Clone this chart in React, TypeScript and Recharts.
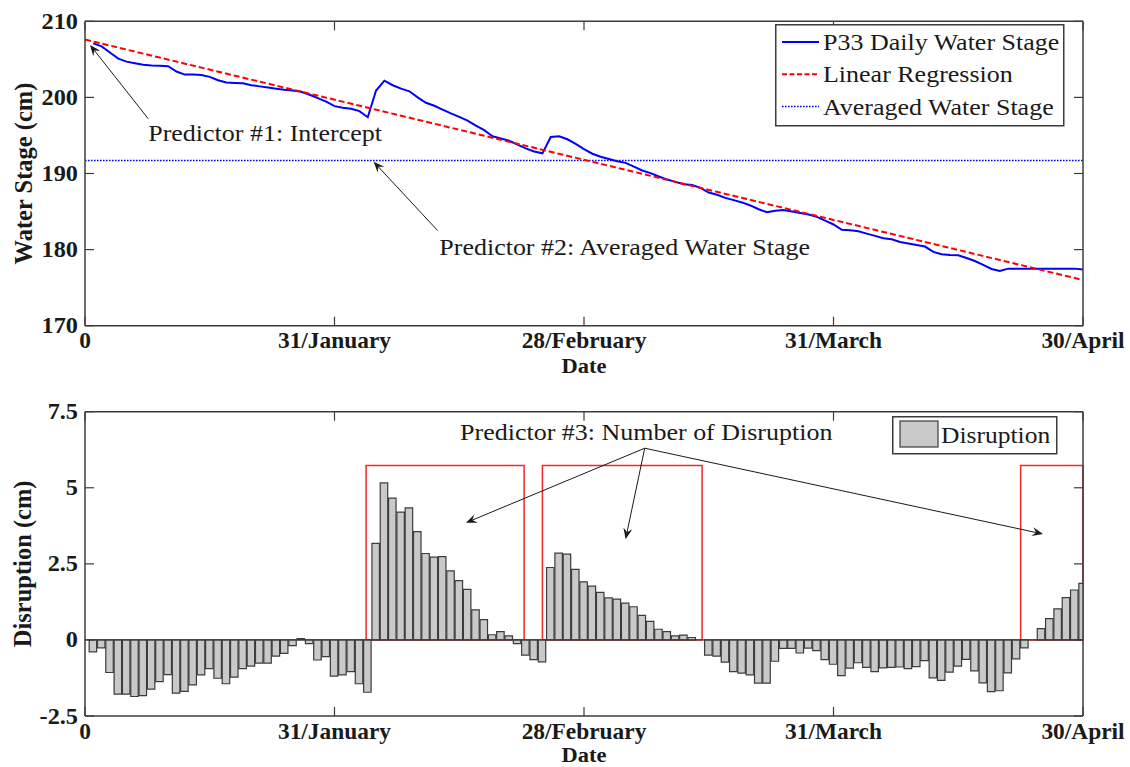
import React from 'react';
import {
  ComposedChart,
  Line,
  Bar,
  XAxis,
  YAxis,
  ReferenceLine,
  ReferenceArea,
  ReferenceDot,
  Legend,
} from 'recharts';

// Day index of each daily record (day 1 = 1 January)
const days: number[] = Array.from({ length: 120 }, (_, i) => i + 1);

// P33 daily water stage (cm)
const dailyStage: number[] = [
  207.1, 206.7, 205.9, 205.1, 204.7, 204.5, 204.3, 204.2, 204.15, 204.1,
  203.4, 203.0, 203.0, 202.95, 202.7, 202.25, 201.95, 201.9, 201.85, 201.6,
  201.45, 201.3, 201.15, 201.0, 200.9, 200.75, 200.35, 199.9, 199.45, 198.85,
  198.65, 198.5, 198.2, 197.4, 200.9, 202.2, 201.6, 201.15, 200.8, 200.0,
  199.3, 198.9, 198.4, 197.9, 197.45, 196.95, 196.3, 195.7, 194.9, 194.6,
  194.3, 193.8, 193.3, 192.9, 192.65, 194.8, 194.9, 194.5, 193.9, 193.2,
  192.6, 192.2, 191.9, 191.6, 191.4, 190.9, 190.4, 190.05, 189.6, 189.2,
  188.9, 188.6, 188.5, 188.1, 187.5, 187.2, 186.8, 186.5, 186.2, 185.8,
  185.3, 184.9, 185.1, 185.2, 185.0, 184.8, 184.6, 184.3, 183.8, 183.3,
  182.6, 182.55, 182.4, 182.1, 181.8, 181.5, 181.35, 181.0, 180.8, 180.6,
  180.4, 179.7, 179.4, 179.3, 179.25, 178.9, 178.5, 178.0, 177.45, 177.2,
  177.5, 177.5, 177.5, 177.5, 177.5, 177.5, 177.5, 177.5, 177.5, 177.4,
];

// Daily disruption (cm)
const disruption: number[] = [
  -0.39, -0.26, -1.07, -1.78, -1.78, -1.86, -1.83, -1.62, -1.37, -1.14,
  -1.75, -1.69, -1.48, -1.15, -0.94, -1.26, -1.44, -1.22, -0.94, -0.86,
  -0.76, -0.76, -0.53, -0.44, -0.19, 0.04, -0.12, -0.66, -0.55, -1.19,
  -1.15, -1.04, -1.44, -1.72, 3.17, 5.16, 4.66, 4.2, 4.34, 3.56,
  2.84, 2.72, 2.74, 2.27, 1.95, 1.66, 0.99, 0.67, 0.17, 0.27,
  0.13, -0.12, -0.5, -0.65, -0.72, 2.38, 2.85, 2.82, 2.32, 1.91,
  1.77, 1.56, 1.38, 1.34, 1.21, 1.09, 0.81, 0.61, 0.35, 0.27,
  0.13, 0.16, 0.08, 0, -0.5, -0.53, -0.73, -1.04, -1.09, -1.15,
  -1.42, -1.42, -0.7, -0.28, -0.28, -0.43, -0.27, -0.35, -0.65, -0.8,
  -1.17, -0.93, -0.75, -0.9, -1.04, -0.92, -0.9, -0.89, -0.94, -0.88,
  -0.68, -1.25, -1.33, -1.06, -0.86, -0.64, -1.02, -1.41, -1.7, -1.67,
  -1.08, -0.62, -0.26, 0, 0.37, 0.7, 1.02, 1.39, 1.64, 1.86,
];

// Fitted linear regression end points (day, cm)
const regressionDays: number[] = [0, 120];
const regressionStage: number[] = [207.6, 176.0];

// Mean water stage over the period (cm)
const averagedStage = 191.7;

const dateTicks: number[] = [0, 30, 60, 90, 120];
const dateTickLabels: string[] = ['0', '31/January', '28/February', '31/March', '30/April'];
const stageTicks: number[] = [170, 180, 190, 200, 210];
const stageTickLabels: string[] = ['170', '180', '190', '200', '210'];
const disruptionTicks: number[] = [-2.5, 0, 2.5, 5, 7.5];
const disruptionTickLabels: string[] = ['-2.5', '0', '2.5', '5', '7.5'];

// Periods of positive disruption framed in red: [from day, to day]
const disruptionPeriods: number[][] = [
  [33.8, 52.8],
  [55.0, 74.2],
  [112.5, 120],
];
const periodTop = 5.73;

// Annotation anchors in data units
const interceptNote = { text: 'Predictor #1: Intercept', at: [7.6, 195.3], from: [7.6, 197.2], to: [0.6, 206.9] };
const averageNote = { text: 'Predictor #2: Averaged Water Stage', at: [42.6, 180.4], from: [42.4, 182.5], to: [34.7, 191.55] };
const disruptionNote = {
  text: 'Predictor #3: Number of Disruption',
  at: [45.1, 6.83],
  from: [67.3, 6.3],
  targets: [
    [45.8, 3.85],
    [65.0, 3.31],
    [115.2, 3.48],
  ],
};

const stageData = days.map((d, i) => ({ day: d, stage: dailyStage[i] }));
const regressionData = regressionDays.map((d, i) => ({ day: d, regression: regressionStage[i] }));
const averageData = [
  { day: 0, average: averagedStage },
  { day: 120, average: averagedStage },
];
const disruptionData = days.map((d, i) => ({ day: d, disruption: disruption[i] }));

// ---- styling ----
const FONT = '"Liberation Serif", "Times New Roman", Times, serif';
const INK = '#1a1a1a';
const AXIS_COLOR = '#3c3c3c';
const TICK_LEN = 9;
const BLUE = '#0000ff';
const RED = '#ff0000';
const BAR_FILL = '#c9c9c9';
const BOX_RED = '#f02828';
const WIDE = 1.13; // horizontal widening of the lighter texts
const TICK_WIDE = 1.04;

const CHART_W = 1130;
const PLOT_LEFT = 85;
const PLOT_RIGHT = 1083;
const BAR_SIZE = (PLOT_RIGHT - PLOT_LEFT) / 120;

const labelFor = (values: number[], labels: string[]) => (v: number) => {
  const i = values.indexOf(v);
  return i >= 0 ? labels[i] : String(v);
};
const dateLabel = labelFor(dateTicks, dateTickLabels);
const stageLabel = labelFor(stageTicks, stageTickLabels);
const disruptionLabel = labelFor(disruptionTicks, disruptionTickLabels);

type STextProps = {
  x: number;
  y: number;
  anchor?: 'start' | 'middle' | 'end';
  size: number;
  weight?: number;
  sx?: number;
  rotate?: number;
  children: React.ReactNode;
};

// Text widened horizontally around its anchor point
const SText = ({ x, y, anchor = 'start', size, weight = 400, sx = 1, rotate = 0, children }: STextProps) => (
  <text
    transform={`translate(${x} ${y})${rotate ? ` rotate(${rotate})` : ''} scale(${sx} 1)`}
    x={0}
    y={0}
    textAnchor={anchor}
    fontFamily={FONT}
    fontSize={size}
    fontWeight={weight}
    fill={INK}
  >
    {children}
  </text>
);

const BottomTick = (props: any) => {
  const { x, y, payload } = props;
  return (
    <g>
      <line x1={x} y1={y} x2={x} y2={y - TICK_LEN} stroke={AXIS_COLOR} strokeWidth={1.2} />
      <SText x={x} y={y + 22.5} anchor="middle" size={22.5} weight={700} sx={TICK_WIDE}>
        {dateLabel(payload.value)}
      </SText>
    </g>
  );
};

const TopTick = (props: any) => {
  const { x, y } = props;
  return <line x1={x} y1={y} x2={x} y2={y + TICK_LEN} stroke={AXIS_COLOR} strokeWidth={1.2} />;
};

const makeLeftTick = (fmt: (v: number) => string) => (props: any) => {
  const { x, y, payload } = props;
  return (
    <g>
      <line x1={x} y1={y} x2={x + TICK_LEN} y2={y} stroke={AXIS_COLOR} strokeWidth={1.2} />
      <SText x={x - 7} y={y + 7.5} anchor="end" size={22.5} weight={700} sx={1.08}>
        {fmt(payload.value)}
      </SText>
    </g>
  );
};

const RightTick = (props: any) => {
  const { x, y } = props;
  return <line x1={x} y1={y} x2={x - TICK_LEN} y2={y} stroke={AXIS_COLOR} strokeWidth={1.2} />;
};

const yTitle = (text: string, dx: number) => (p: any) => {
  const vb = p.viewBox || {};
  const cx = vb.x + vb.width - dx + 8;
  const cy = vb.y + vb.height / 2;
  return (
    <SText x={cx} y={cy} anchor="middle" size={24.5} weight={700} rotate={-90}>
      {text}
    </SText>
  );
};

const xTitle = (text: string, dy: number) => (p: any) => {
  const vb = p.viewBox || {};
  return (
    <SText x={vb.x + vb.width / 2} y={vb.y + dy} anchor="middle" size={21} weight={700} sx={1.07}>
      {text}
    </SText>
  );
};

// Line with a filled arrowhead at its end point
const arrowShape = (p: any) => {
  const { x1, y1, x2, y2 } = p;
  const dx = x2 - x1;
  const dy = y2 - y1;
  const len = Math.hypot(dx, dy) || 1;
  const ux = dx / len;
  const uy = dy / len;
  const head = 11;
  const half = 4.5;
  const notch = 7;
  const bx = x2 - ux * head;
  const by = y2 - uy * head;
  const pts = [
    [x2, y2],
    [bx - uy * half, by + ux * half],
    [x2 - ux * notch, y2 - uy * notch],
    [bx + uy * half, by - ux * half],
  ]
    .map((q) => q.join(','))
    .join(' ');
  return (
    <g>
      <line x1={x1} y1={y1} x2={x2 - ux * notch} y2={y2 - uy * notch} stroke={INK} strokeWidth={1} />
      <polygon points={pts} fill={INK} />
    </g>
  );
};

const noteShape = (text: string) => (p: any) => (
  <SText x={p.cx} y={p.cy + 8} size={23} sx={WIDE}>
    {text}
  </SText>
);

const topLegendItems = [
  { label: 'P33 Daily Water Stage', color: BLUE, dash: undefined as string | undefined, width: 2 },
  { label: 'Linear Regression', color: RED, dash: '5 2.5', width: 2 },
  { label: 'Averaged Water Stage', color: BLUE, dash: '1.6 1.4', width: 1.5 },
];

const TopLegend = () => (
  <svg width={290} height={103} style={{ display: 'block' }}>
    <rect x={0.75} y={0.75} width={288} height={101} fill="#fff" stroke={AXIS_COLOR} strokeWidth={1.5} />
    {topLegendItems.map((it, i) => {
      const cy = 18 + i * 32.3;
      return (
        <g key={it.label}>
          <line x1={7} y1={cy} x2={44} y2={cy} stroke={it.color} strokeWidth={it.width} strokeDasharray={it.dash} />
          <SText x={48} y={cy + 8} size={23} sx={WIDE}>
            {it.label}
          </SText>
        </g>
      );
    })}
  </svg>
);

const BottomLegend = () => (
  <svg width={166} height={39} style={{ display: 'block' }}>
    <rect x={0.75} y={0.75} width={164} height={37} fill="#fff" stroke={AXIS_COLOR} strokeWidth={1.5} />
    <rect x={8} y={5} width={38} height={26} fill={BAR_FILL} stroke={AXIS_COLOR} strokeWidth={1.2} />
    <SText x={49} y={27} size={23} sx={1.11}>
      Disruption
    </SText>
  </svg>
);

export default function App() {
  return (
    <div style={{ position: 'absolute', left: 0, top: 0, width: CHART_W, height: 767, background: '#fff' }}>
      {/* Water stage panel */}
      <div style={{ position: 'absolute', left: 0, top: 0 }}>
        <ComposedChart
          width={CHART_W}
          height={380}
          data={stageData}
          margin={{ top: 11.3, right: 37, bottom: 24.3, left: 35 }}
        >
          <XAxis
            dataKey="day"
            type="number"
            domain={[0, 120]}
            ticks={dateTicks}
            allowDataOverflow
            height={30}
            tickSize={0}
            tickMargin={0}
            tick={BottomTick}
            tickLine={false}
            axisLine={{ stroke: AXIS_COLOR, strokeWidth: 1.5 }}
            label={{ content: xTitle('Date', 47.5) }}
          />
          <XAxis
            xAxisId="t"
            orientation="top"
            type="number"
            dataKey="day"
            domain={[0, 120]}
            ticks={dateTicks}
            allowDataOverflow
            height={10}
            tickSize={0}
            tickMargin={0}
            tick={TopTick}
            tickLine={false}
            axisLine={{ stroke: AXIS_COLOR, strokeWidth: 1.5 }}
          />
          <YAxis
            type="number"
            domain={[170, 210]}
            ticks={stageTicks}
            allowDataOverflow
            width={50}
            tickSize={0}
            tickMargin={0}
            tick={makeLeftTick(stageLabel)}
            tickLine={false}
            axisLine={{ stroke: AXIS_COLOR, strokeWidth: 1.5 }}
            label={{ content: yTitle('Water Stage (cm)', 61) }}
          />
          <YAxis
            yAxisId="r"
            orientation="right"
            type="number"
            domain={[170, 210]}
            ticks={stageTicks}
            allowDataOverflow
            width={10}
            tickSize={0}
            tickMargin={0}
            tick={RightTick}
            tickLine={false}
            axisLine={{ stroke: AXIS_COLOR, strokeWidth: 1.5 }}
          />
          <Line
            data={averageData}
            dataKey="average"
            name="Averaged Water Stage"
            stroke={BLUE}
            strokeWidth={1.5}
            strokeDasharray="1.6 1.4"
            dot={false}
            isAnimationActive={false}
          />
          <Line
            dataKey="stage"
            name="P33 Daily Water Stage"
            stroke={BLUE}
            strokeWidth={2}
            dot={false}
            isAnimationActive={false}
          />
          <Line
            data={regressionData}
            dataKey="regression"
            name="Linear Regression"
            stroke={RED}
            strokeWidth={2}
            strokeDasharray="6 3"
            dot={false}
            isAnimationActive={false}
          />
          <ReferenceLine
            segment={[
              { x: interceptNote.from[0], y: interceptNote.from[1] },
              { x: interceptNote.to[0], y: interceptNote.to[1] },
            ]}
            shape={arrowShape}
          />
          <ReferenceDot x={interceptNote.at[0]} y={interceptNote.at[1]} r={0} shape={noteShape(interceptNote.text)} />
          <ReferenceLine
            segment={[
              { x: averageNote.from[0], y: averageNote.from[1] },
              { x: averageNote.to[0], y: averageNote.to[1] },
            ]}
            shape={arrowShape}
          />
          <ReferenceDot x={averageNote.at[0]} y={averageNote.at[1]} r={0} shape={noteShape(averageNote.text)} />
          <Legend
            layout="vertical"
            align="center"
            verticalAlign="middle"
            content={TopLegend}
            wrapperStyle={{ left: 775, top: 23.5, width: 290, height: 103, right: 'auto', bottom: 'auto' }}
          />
        </ComposedChart>
      </div>

      {/* Disruption panel */}
      <div style={{ position: 'absolute', left: 0, top: 380 }}>
        <ComposedChart
          width={CHART_W}
          height={387}
          data={disruptionData}
          margin={{ top: 21.7, right: 37, bottom: 21, left: 35 }}
        >
          <XAxis
            dataKey="day"
            type="number"
            domain={[0, 120]}
            ticks={dateTicks}
            allowDataOverflow
            height={30}
            tickSize={0}
            tickMargin={0}
            tick={BottomTick}
            tickLine={false}
            axisLine={{ stroke: AXIS_COLOR, strokeWidth: 1.5 }}
            label={{ content: xTitle('Date', 46.4) }}
          />
          <XAxis
            xAxisId="t"
            orientation="top"
            type="number"
            dataKey="day"
            domain={[0, 120]}
            ticks={dateTicks}
            allowDataOverflow
            height={10}
            tickSize={0}
            tickMargin={0}
            tick={TopTick}
            tickLine={false}
            axisLine={{ stroke: AXIS_COLOR, strokeWidth: 1.5 }}
          />
          <YAxis
            type="number"
            domain={[-2.5, 7.5]}
            ticks={disruptionTicks}
            allowDataOverflow
            width={50}
            tickSize={0}
            tickMargin={0}
            tick={makeLeftTick(disruptionLabel)}
            tickLine={false}
            axisLine={{ stroke: AXIS_COLOR, strokeWidth: 1.5 }}
            label={{ content: yTitle('Disruption (cm)', 62.5) }}
          />
          <YAxis
            yAxisId="r"
            orientation="right"
            type="number"
            domain={[-2.5, 7.5]}
            ticks={disruptionTicks}
            allowDataOverflow
            width={10}
            tickSize={0}
            tickMargin={0}
            tick={RightTick}
            tickLine={false}
            axisLine={{ stroke: AXIS_COLOR, strokeWidth: 1.5 }}
          />
          <Bar
            dataKey="disruption"
            name="Disruption"
            fill={BAR_FILL}
            stroke={AXIS_COLOR}
            strokeWidth={1.2}
            barSize={BAR_SIZE}
            isAnimationActive={false}
          />
          <ReferenceLine y={0} stroke={AXIS_COLOR} strokeWidth={1.2} />
          {disruptionPeriods.map(([a, b], i) => (
            <ReferenceArea
              key={i}
              x1={a}
              x2={b}
              y1={0}
              y2={periodTop}
              fill="none"
              fillOpacity={0}
              stroke={BOX_RED}
              strokeWidth={1.5}
            />
          ))}
          {disruptionNote.targets.map((t, i) => (
            <ReferenceLine
              key={`arrow-${i}`}
              segment={[
                { x: disruptionNote.from[0], y: disruptionNote.from[1] },
                { x: t[0], y: t[1] },
              ]}
              shape={arrowShape}
            />
          ))}
          <ReferenceDot x={disruptionNote.at[0]} y={disruptionNote.at[1]} r={0} shape={noteShape(disruptionNote.text)} />
          <Legend
            layout="vertical"
            align="center"
            verticalAlign="middle"
            content={BottomLegend}
            wrapperStyle={{ left: 891.5, top: 36, width: 166, height: 39, right: 'auto', bottom: 'auto' }}
          />
        </ComposedChart>
      </div>
    </div>
  );
}
